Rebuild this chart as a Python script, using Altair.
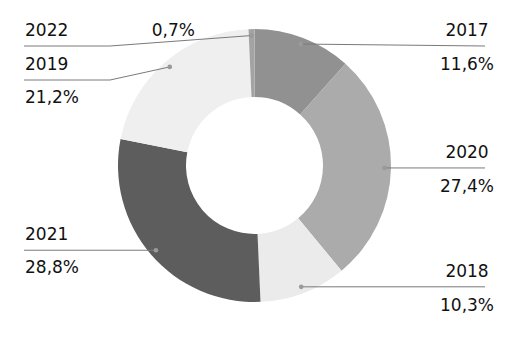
import math
import altair as alt
import pandas as pd

# ---- data ----
years = ["2017", "2020", "2018", "2021", "2019", "2022"]
shares = [11.6, 27.4, 10.3, 28.8, 21.2, 0.7]
colors = ["#919191", "#ababab", "#ebebeb", "#5d5d5d", "#efefef", "#a3a3a3"]

# ---- layout ----
W, H = 493, 315
CX, CY = W / 2, H / 2
R_OUT, R_IN, R_DOT = 136.5, 68.5, 130
LEFT_X, LEFT_BEND, RIGHT_END, RIGHT_TXT = 16, 102, 477, 459
TOP_MIN, GAP = 38, 34
FONT = "DejaVu Sans"
FS = 17

df = pd.DataFrame({"year": years, "share": shares, "idx": range(len(years))})
total = df["share"].sum()
cum = df["share"].cumsum() - df["share"] / 2
df["ang"] = cum / total * 2 * math.pi
df["dx"] = CX + R_DOT * df["ang"].apply(math.sin)
df["dy"] = CY - R_DOT * df["ang"].apply(math.cos)
df["side"] = ["right" if math.sin(a) >= 0 else "left" for a in df["ang"]]
df["pct"] = [f"{s:.1f}".replace(".", ",") + "%" for s in df["share"]]

# label line heights with simple collision avoidance
df["ly"] = df["dy"]
df["inline"] = False
for side in ["left", "right"]:
    sub = df[df["side"] == side].sort_values("dy")
    prev = None
    for i in sub.index:
        ly = max(df.at[i, "dy"], TOP_MIN if prev is None else prev + GAP)
        df.at[i, "ly"] = ly
        prev = ly
    order = list(sub.index)
    for a, b in zip(order[:-1], order[1:]):
        if df.at[b, "ly"] - df.at[a, "ly"] < 50:
            df.at[a, "inline"] = True

segs, texts = [], []
for _, r in df.iterrows():
    if r["side"] == "left":
        segs.append(dict(x=LEFT_X, y=r["ly"], x2=LEFT_BEND, y2=r["ly"]))
        segs.append(dict(x=LEFT_BEND, y=r["ly"], x2=r["dx"], y2=r["dy"]))
        texts.append(dict(tx=LEFT_X + 1, ty=r["ly"] - 10, t=r["year"], a="left"))
        if r["inline"]:
            texts.append(dict(tx=187, ty=r["ly"] - 10, t=r["pct"], a="right"))
        else:
            texts.append(dict(tx=LEFT_X + 1, ty=r["ly"] + 23, t=r["pct"], a="left"))
    else:
        segs.append(dict(x=r["dx"], y=r["dy"], x2=RIGHT_END, y2=r["ly"]))
        texts.append(dict(tx=RIGHT_TXT, ty=r["ly"] - 10, t=r["year"], a="center"))
        texts.append(dict(tx=RIGHT_TXT, ty=r["ly"] + 24, t=r["pct"], a="center"))
seg_df = pd.DataFrame(segs)
txt_df = pd.DataFrame(texts)

arc = alt.Chart(df).mark_arc(outerRadius=R_OUT, innerRadius=R_IN).encode(
    theta=alt.Theta("share:Q", stack=True),
    color=alt.Color("year:N", scale=alt.Scale(domain=years, range=colors), legend=None),
    order=alt.Order("idx:Q"),
)

rules = alt.Chart(seg_df).mark_rule(color="#7a7a7a", strokeWidth=1).encode(
    x=alt.X("x:Q", scale=None), y=alt.Y("y:Q", scale=None),
    x2="x2:Q", y2="y2:Q",
)

dots = alt.Chart(df).mark_circle(color="#9a9a9a", size=22, opacity=1).encode(
    x=alt.X("dx:Q", scale=None), y=alt.Y("dy:Q", scale=None),
)

layers = [arc, rules, dots]
for a in ["left", "center", "right"]:
    layers.append(
        alt.Chart(txt_df).transform_filter(alt.datum.a == a)
        .mark_text(align=a, baseline="alphabetic", font=FONT, fontSize=FS, color="#111111")
        .encode(x=alt.X("tx:Q", scale=None), y=alt.Y("ty:Q", scale=None), text="t:N")
    )

chart = alt.layer(*layers).properties(
    width=W, height=H, padding=0,
    autosize=alt.AutoSizeParams(type="none"),
).configure_view(stroke=None)

chart.save("out.html", embed_options={"renderer": "svg", "actions": False})
